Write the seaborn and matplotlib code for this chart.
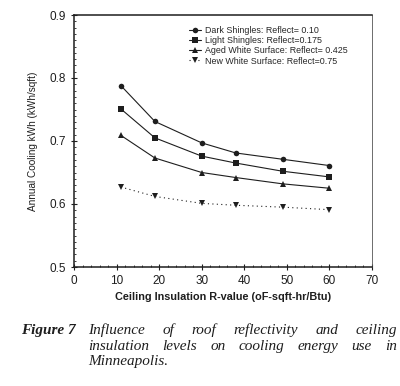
import matplotlib

matplotlib.use("Agg")
import matplotlib.pyplot as plt
import pandas as pd
import seaborn as sns
from matplotlib.ticker import MultipleLocator

r_values = [11, 19, 30, 38, 49, 60]
dark_shingles = [0.788, 0.731, 0.697, 0.681, 0.671, 0.661]
light_shingles = [0.751, 0.705, 0.676, 0.665, 0.652, 0.643]
aged_white = [0.709, 0.673, 0.650, 0.642, 0.632, 0.625]
new_white = [0.627, 0.612, 0.601, 0.598, 0.595, 0.591]

series_names = [
    "Dark Shingles: Reflect= 0.10",
    "Light Shingles: Reflect=0.175",
    "Aged White Surface: Reflect= 0.425",
    "New White Surface: Reflect=0.75",
]

caption_label = "Figure 7"
caption_lines = [
    "Influence of roof reflectivity and ceiling",
    "insulation levels on cooling energy use in",
    "Minneapolis.",
]

frame = pd.concat(
    [
        pd.DataFrame({"r": r_values, "kwh": vals, "series": name})
        for name, vals in zip(
            series_names, [dark_shingles, light_shingles, aged_white, new_white]
        )
    ],
    ignore_index=True,
)

sns.set_style("ticks")
plt.rcParams["font.family"] = ["Liberation Sans", "DejaVu Sans"]

ink = "#1e1e1e"
W, H = 400, 386
fig = plt.figure(figsize=(W / 100, H / 100), dpi=100)
ax = fig.add_axes([74 / W, 1 - 267 / H, 298 / W, 252 / H])

sns.lineplot(
    data=frame,
    x="r",
    y="kwh",
    hue="series",
    style="series",
    palette=[ink] * 4,
    markers={series_names[0]: "o", series_names[1]: "s",
             series_names[2]: "^", series_names[3]: "v"},
    dashes={series_names[0]: "", series_names[1]: "",
            series_names[2]: "", series_names[3]: (1, 3)},
    markersize=4,
    linewidth=0.8,
    markeredgewidth=0,
    ax=ax,
)

ax.set_xlim(0, 70)
ax.set_ylim(0.5, 0.9)
ax.xaxis.set_major_locator(MultipleLocator(10))
ax.xaxis.set_minor_locator(MultipleLocator(2))
ax.yaxis.set_major_locator(MultipleLocator(0.1))
ax.yaxis.set_minor_locator(MultipleLocator(0.01))
ax.tick_params(axis="both", which="major", direction="inout", length=4,
               width=0.8, labelsize=8.5, colors=ink)
ax.tick_params(axis="x", which="major", pad=4)
ax.tick_params(axis="y", which="major", pad=4)
ax.tick_params(axis="both", which="minor", direction="in", length=1.5,
               width=0.6, colors=ink)
for side in ["left", "bottom", "top"]:
    ax.spines[side].set_linewidth(1.1)
    ax.spines[side].set_color(ink)
ax.spines["right"].set_linewidth(0.6)
ax.spines["right"].set_color("#555555")

ax.set_xlabel("Ceiling Insulation R-value (oF-sqft-hr/Btu)", fontsize=7.8,
              fontweight="bold", color=ink, labelpad=3)
ax.set_ylabel("Annual Cooling kWh (kWh/sqft)", fontsize=7.2, color=ink,
              labelpad=8)

ax.legend(
    loc="upper left",
    bbox_to_anchor=(0.385, 0.955),
    frameon=False,
    fontsize=6.4,
    handlelength=1.4,
    handletextpad=0.4,
    labelspacing=0.12,
    borderaxespad=0,
    borderpad=0,
)

serif = ["Liberation Serif", "DejaVu Serif"]
fig.text(21 / W, 1 - 334 / H, caption_label, fontsize=11, fontweight="bold",
         style="italic", family=serif, color=ink)

# justified caption: spread the words between the two edges
renderer = fig.canvas.get_renderer()
left_px, right_px = 88, 397
baselines = [334, 350, 365]
for line, base in zip(caption_lines, baselines):
    y = 1 - base / H
    words = line.split()
    artists = [fig.text(0, y, w, fontsize=11, style="italic", family=serif,
                        color=ink) for w in words]
    widths = [a.get_window_extent(renderer).width for a in artists]
    if line is caption_lines[-1] or len(words) < 2:
        gap = 4.0
    else:
        gap = (right_px - left_px - sum(widths)) / (len(words) - 1)
    x = left_px
    for a, w in zip(artists, widths):
        a.set_x(x / W)
        x += w + gap

fig.savefig("out.png", dpi=100)
